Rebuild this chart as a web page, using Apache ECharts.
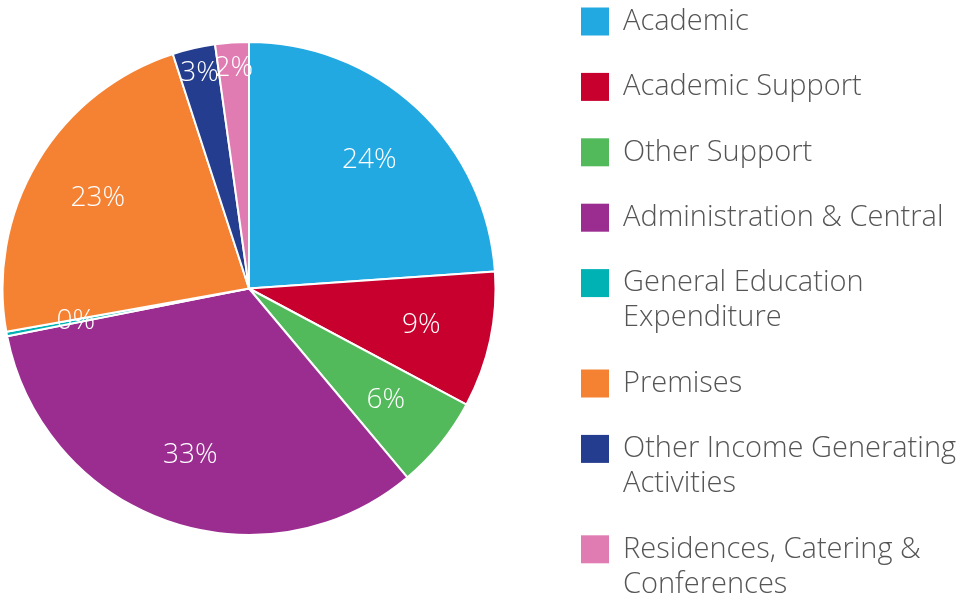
<!DOCTYPE html>
<html>
<head>
<meta charset="utf-8">
<script src="https://cdn.jsdelivr.net/npm/echarts@6/dist/echarts.min.js"></script>
<style>
  html, body { margin: 0; padding: 0; background: #fff; }
  #chart { width: 961px; height: 597px; }
</style>
</head>
<body>
<div id="chart"></div>
<script>
var chart = echarts.init(document.getElementById('chart'));

// spending split, % of total
var categories = ['Academic', 'Academic Support', 'Other Support', 'Administration & Central',
    'General Education Expenditure', 'Premises', 'Other Income Generating Activities',
    'Residences, Catering & Conferences'];
var legendLines = [['Academic'], ['Academic Support'], ['Other Support'], ['Administration & Central'],
    ['General Education', 'Expenditure'], ['Premises'], ['Other Income Generating', 'Activities'],
    ['Residences, Catering &', 'Conferences']];
var values = [23.9, 8.9, 6.1, 33.0, 0.3, 22.8, 2.8, 2.2];
var colors = ['#23a9e1', '#c8002d', '#52ba5b', '#9b2d91', '#00b2b4', '#f58233', '#253d8e', '#e17cb3'];

var fontFamily = 'Open Sans';

// swatch drawn inside the legend text so it sits on the first line
var rich = {
    t: { fontFamily: fontFamily, fontWeight: 300, fontSize: 29, lineHeight: 35, color: '#555555' },
    sp: { width: 42, height: 28 }
};
colors.forEach(function (c, i) {
    rich['sq' + i] = { width: 28, height: 28, backgroundColor: c, verticalAlign: 'middle' };
    rich['g' + i] = { width: 14 };
});

var isSmall = function (v) { return v >= 1 && v < 4; };

var labelStyle = {
    position: 'inside',
    color: '#ffffff',
    fontFamily: fontFamily,
    fontWeight: 300,
    fontSize: 28,
    formatter: function (p) { return Math.round(p.value) + '%'; }
};

var option = {
    animation: false,
    legend: {
        orient: 'vertical',
        left: 580,
        top: 4,
        height: 700,
        padding: 0,
        itemGap: 30.4,
        itemWidth: 0,
        itemHeight: 0,
        icon: 'rect',
        selectedMode: false,
        data: categories,
        formatter: function (name) {
            var i = categories.indexOf(name);
            return legendLines[i].map(function (line, k) {
                return (k === 0 ? '{sq' + i + '|}{g' + i + '|}' : '{sp|}') + '{t|' + line + '}';
            }).join('\n');
        },
        textStyle: { rich: rich, lineHeight: 35, padding: [0, 0, 0, -5] }
    },
    series: [
        {
            type: 'pie',
            center: [249, 288.5],
            radius: [0, 246.5],
            startAngle: 90,
            clockwise: true,
            silent: true,
            label: { show: false },
            labelLine: { show: false },
            itemStyle: { borderColor: '#ffffff', borderWidth: 2 },
            data: categories.map(function (name, i) {
                return { name: name, value: values[i], itemStyle: { color: colors[i] } };
            })
        },
        {
            // transparent ring that carries the percentage labels
            type: 'pie',
            center: [249, 288.5],
            radius: [100, 246.5],
            startAngle: 90,
            clockwise: true,
            silent: true,
            avoidLabelOverlap: false,
            labelLayout: { hideOverlap: false },
            legendHoverLink: false,
            itemStyle: { color: 'rgba(0,0,0,0)', borderWidth: 0 },
            labelLine: { show: false },
            label: labelStyle,
            data: categories.map(function (name, i) {
                return { name: name, value: values[i], label: { show: !isSmall(values[i]) } };
            })
        },
        {
            // thin slices carry their labels further out
            type: 'pie',
            center: [249, 288.5],
            radius: [180, 256],
            startAngle: 90,
            clockwise: true,
            silent: true,
            avoidLabelOverlap: false,
            labelLayout: { hideOverlap: false },
            legendHoverLink: false,
            itemStyle: { color: 'rgba(0,0,0,0)', borderWidth: 0 },
            labelLine: { show: false },
            label: labelStyle,
            data: categories.map(function (name, i) {
                return { name: name, value: values[i], label: { show: isSmall(values[i]) } };
            })
        }
    ]
};
chart.setOption(option);
</script>
</body>
</html>
